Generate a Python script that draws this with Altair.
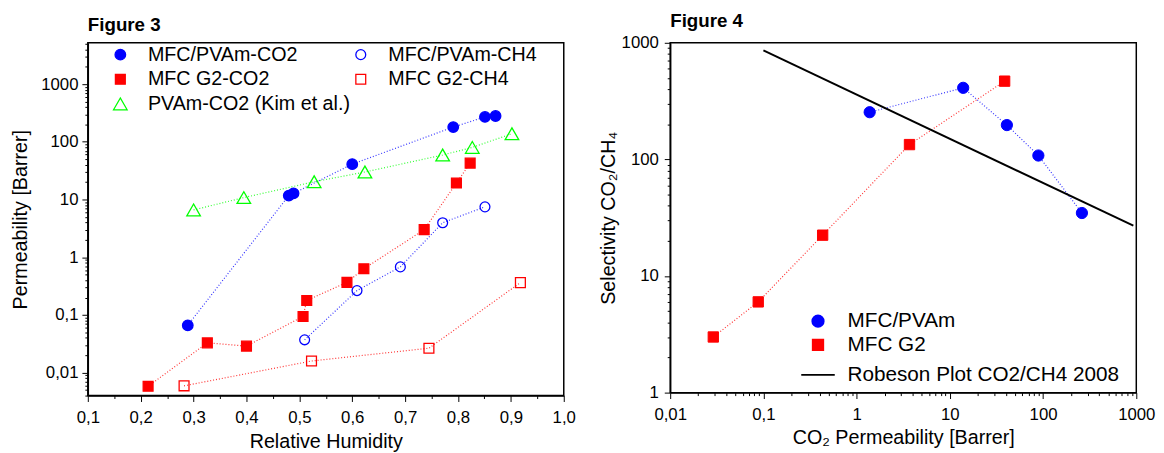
import altair as alt
import pandas as pd

# ---------------- Figure 3 data ----------------
# legend order (filled column by column): left column, then right column
names3 = ["MFC/PVAm-CO2", "MFC G2-CO2", "PVAm-CO2 (Kim et al.)", "MFC/PVAm-CH4", "MFC G2-CH4"]
rh_pvam_co2 = [0.289, 0.480, 0.489, 0.600, 0.791, 0.851, 0.871]
perm_pvam_co2 = [0.066, 11.7, 12.8, 41, 180, 270, 280]
rh_g2_co2 = [0.214, 0.326, 0.400, 0.507, 0.514, 0.590, 0.622, 0.736, 0.797, 0.823]
perm_g2_co2 = [0.0058, 0.0328, 0.0288, 0.094, 0.178, 0.367, 0.63, 3.0, 19.3, 42.7]
rh_kim = [0.300, 0.395, 0.528, 0.624, 0.771, 0.827, 0.902]
perm_kim = [6.6, 10.8, 20.3, 30, 59, 80, 138]
rh_pvam_ch4 = [0.510, 0.609, 0.691, 0.771, 0.851]
perm_pvam_ch4 = [0.037, 0.264, 0.68, 3.96, 7.46]
rh_g2_ch4 = [0.282, 0.523, 0.745, 0.918]
perm_g2_ch4 = [0.0059, 0.0159, 0.0265, 0.363]

# ---------------- Figure 4 data ----------------
names4 = ["MFC/PVAm", "MFC G2", "Robeson Plot CO2/CH4 2008"]
perm_pvam = [1.38, 13.9, 40.9, 89, 261]
sel_pvam = [254, 411, 197, 108, 34.7]
perm_g2 = [0.029, 0.088, 0.432, 3.69, 38.7]
sel_g2 = [3.0, 6.0, 22.4, 134, 469]
robeson_perm = [0.1, 930]
robeson_sel = [861, 27]

# tick values
x3_ticks = [0.1, 0.15, 0.2, 0.25, 0.3, 0.35, 0.4, 0.45, 0.5, 0.55, 0.6, 0.65,
            0.7, 0.75, 0.8, 0.85, 0.9, 0.95, 1.0]
y3_ticks = [m * 10.0 ** e for e in range(-3, 4) for m in range(1, 10)
            if 0.004 - 1e-9 <= m * 10.0 ** e <= 5200]
x4_ticks = [m * 10.0 ** e for e in range(-2, 4) for m in range(1, 10)
            if m * 10.0 ** e <= 1000 + 1e-9]
y4_ticks = [m * 10.0 ** e for e in range(0, 4) for m in range(1, 10)
            if m * 10.0 ** e <= 1000 + 1e-9]

FONT = "Liberation Sans"


def long_df(names, xs_list, ys_list, xname, yname):
    rows = []
    for n, xs, ys in zip(names, xs_list, ys_list):
        for a, b in zip(xs, ys):
            rows.append({"series": n, xname: a, yname: b})
    return pd.DataFrame(rows)


df3 = long_df(names3,
              [rh_pvam_co2, rh_g2_co2, rh_kim, rh_pvam_ch4, rh_g2_ch4],
              [perm_pvam_co2, perm_g2_co2, perm_kim, perm_pvam_ch4, perm_g2_ch4],
              "rh", "perm")
df4 = long_df(names4[:2], [perm_pvam, perm_g2], [sel_pvam, sel_g2], "perm", "sel")
df_rob = pd.DataFrame({"perm": robeson_perm, "sel": robeson_sel})

LOG_MAJOR = "abs(log(datum.value)/LN10 - round(log(datum.value)/LN10)) < 0.001"
LIN_MAJOR = "abs(datum.value*10 - round(datum.value*10)) < 0.001"
LOG_LABEL = "(" + LOG_MAJOR + ") ? replace(format(datum.value, '~g'), '.', ',') : ''"
LIN_LABEL = "(" + LIN_MAJOR + ") ? replace(format(datum.value, '.1f'), '.', ',') : ''"


def make_axis(values, major, label, title, title_pad, label_pad):
    return alt.Axis(
        values=values,
        labelExpr=label,
        tickSize={"condition": {"test": major, "value": 6}, "value": 3},
        title=title,
        titlePadding=title_pad,
        labelPadding=label_pad,
        labelOverlap=False,
        labelFlush=False,
        labelBound=False,
        grid=False,
        labelFontSize=17,
        titleFontSize=20,
        titleFontWeight="normal",
    )


# ---------------- Figure 3 chart ----------------
leg3 = alt.Legend(title=None, orient="none", legendX=23, legendY=2, columns=2,
                  columnPadding=-9, rowPadding=5, labelFontSize=20, labelOffset=18,
                  symbolStrokeWidth=1.3, padding=0, labelLimit=400)

x3 = alt.X("rh:Q", scale=alt.Scale(domain=[0.1, 1.0], nice=False, zero=False),
           axis=make_axis(x3_ticks, LIN_MAJOR, LIN_LABEL, "Relative Humidity", 7, 8))
y3 = alt.Y("perm:Q", scale=alt.Scale(type="log", domain=[0.004, 5200], nice=False),
           axis=make_axis(y3_ticks, LOG_MAJOR, LOG_LABEL, "Permeability [Barrer]", 10, 4))

# line colours: domain listed in a different order so that this (legend-less)
# scale is not merged with the marker legend
line_names3 = names3[::-1]
line_cols3 = ["#ff0000", "#0000ff", "#00ff00", "#ff0000", "#0000ff"]

lines3 = alt.Chart(df3).mark_line(strokeDash=[1, 2], strokeWidth=1.2, opacity=0.8).encode(
    x=x3, y=y3,
    color=alt.Color("series:N", scale=alt.Scale(domain=line_names3, range=line_cols3),
                    legend=None),
)
points3 = alt.Chart(df3).mark_point(opacity=1, strokeWidth=1.3).encode(
    x=x3, y=y3,
    shape=alt.Shape("series:N", scale=alt.Scale(domain=names3,
                    range=["circle", "square", "triangle-up", "circle", "square"]), legend=leg3),
    fill=alt.Fill("series:N", scale=alt.Scale(domain=names3,
                  range=["#0000ff", "#ff0000", "transparent", "transparent", "transparent"]), legend=leg3),
    stroke=alt.Stroke("series:N", scale=alt.Scale(domain=names3,
                      range=["#0000ff", "#ff0000", "#00ff00", "#0000ff", "#ff0000"]), legend=leg3),
    size=alt.Size("series:N", scale=alt.Scale(type="ordinal", domain=names3,
                  range=[115, 100, 190, 100, 100]), legend=leg3),
)
fig3 = alt.layer(lines3, points3).properties(
    width=483, height=358,
    title=alt.TitleParams("Figure 3", anchor="start", frame="group", fontSize=19,
                          fontWeight="bold", offset=0, font=FONT),
)

# ---------------- Figure 4 chart ----------------
leg4 = alt.Legend(title=None, orient="none", legendX=132, legendY=272,
                  rowPadding=2, labelFontSize=21, labelOffset=12,
                  symbolStrokeWidth=2, padding=0, labelLimit=400)

x4 = alt.X("perm:Q", scale=alt.Scale(type="log", domain=[0.01, 1000], nice=False),
           axis=make_axis(x4_ticks, LOG_MAJOR, LOG_LABEL, "CO\u2082 Permeability [Barrer]", 6, 8))
y4 = alt.Y("sel:Q", scale=alt.Scale(type="log", domain=[1, 1000], nice=False),
           axis=make_axis(y4_ticks, LOG_MAJOR, LOG_LABEL, "Selectivity CO\u2082/CH\u2084", 3, 6))

lines4 = alt.Chart(df4).mark_line(strokeDash=[1, 2], strokeWidth=1.2, opacity=0.8).encode(
    x=x4, y=y4,
    color=alt.Color("series:N", scale=alt.Scale(domain=names4[:2],
                    range=["#0000ff", "#ff0000"]), legend=None),
)
rob = alt.Chart(df_rob).mark_line(color="black", strokeWidth=2).encode(x=x4, y=y4)
points4 = alt.Chart(df4).mark_point(opacity=1, strokeWidth=1).encode(
    x=x4, y=y4,
    shape=alt.Shape("series:N", scale=alt.Scale(domain=names4,
                    range=["circle", "square", "stroke"]), legend=leg4),
    fill=alt.Fill("series:N", scale=alt.Scale(domain=names4,
                  range=["#0000ff", "#ff0000", "transparent"]), legend=leg4),
    stroke=alt.Stroke("series:N", scale=alt.Scale(domain=names4,
                      range=["#0000ff", "#ff0000", "#000000"]), legend=leg4),
    size=alt.Size("series:N", scale=alt.Scale(type="ordinal", domain=names4,
                  range=[130, 110, 1156]), legend=leg4),
)
fig4 = alt.layer(lines4, rob, points4).properties(
    width=473, height=355,
    title=alt.TitleParams("Figure 4", anchor="start", frame="group", fontSize=19,
                          fontWeight="bold", offset=3, font=FONT),
)

chart = alt.hconcat(fig3, fig4, spacing=21).resolve_scale(
    color="independent", fill="independent", stroke="independent",
    shape="independent", size="independent",
).resolve_legend(
    color="independent", fill="independent", stroke="independent",
    shape="independent", size="independent",
).properties(
    padding={"left": 2, "top": 0, "right": 0, "bottom": 0},
).configure(
    font=FONT,
).configure_view(
    stroke="black", strokeWidth=1.5,
).configure_axis(
    domainColor="black", domainWidth=1.5, tickColor="black", tickWidth=1,
    labelColor="black", titleColor="black", labelFont=FONT, titleFont=FONT,
).configure_legend(
    labelFont=FONT, labelColor="black",
)

chart.save("out.html", embed_options={"renderer": "svg", "actions": False})
